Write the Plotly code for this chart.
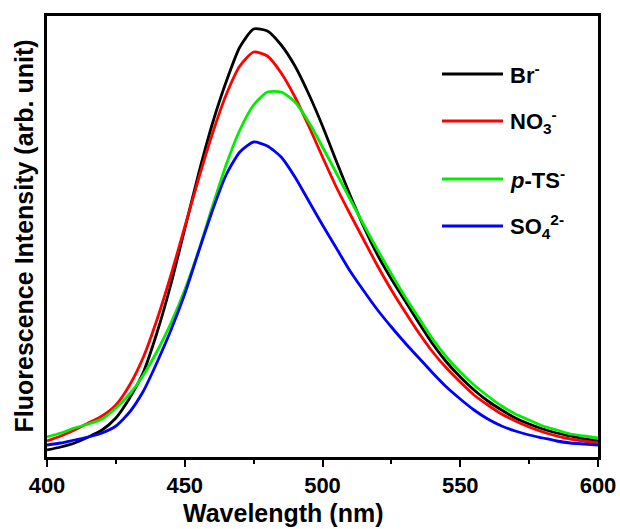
import plotly.graph_objects as go

wavelength = list(range(400, 605, 5))

br = [7, 10, 14, 20, 27, 39, 59, 85, 125, 173, 228, 283, 333, 375, 410, 428, 426, 412, 391, 363, 331,
      296, 262, 230, 202, 178, 156, 134, 113, 95, 80, 67, 56, 47, 39, 33, 28, 24, 21, 18, 16]
no3 = [16, 21, 27, 34, 41, 52, 72, 100, 138, 182, 230, 278, 323, 362, 391, 405, 401, 384, 360, 331, 300,
       270, 243, 217, 191, 167, 145, 124, 105, 89, 75, 62, 52, 43, 36, 30, 25, 21, 18, 16, 14]
pts = [20, 24, 29, 33, 38, 49, 63, 82, 106, 134, 167, 206, 250, 292, 327, 352, 365, 365, 355, 335, 310,
       284, 258, 232, 207, 183, 160, 139, 118, 100, 85, 72, 61, 51, 43, 37, 31, 27, 23, 21, 19]
so4 = [12, 14, 17, 20, 24, 31, 45, 66, 95, 127, 163, 205, 246, 282, 305, 315, 311, 300, 280, 256, 232,
       209, 186, 166, 147, 130, 114, 99, 84, 70, 58, 47, 38, 31, 26, 22, 19, 16, 14, 13, 12]

names = ["Br<sup>-</sup>", "NO<sub>3</sub><sup>-</sup>", "<i>p</i>-TS<sup>-</sup>", "SO<sub>4</sub><sup>2-</sup>"]
series = [br, no3, pts, so4]
colors = ["#000000", "#ff0000", "#00ee00", "#0000ff"]

FONT = "Liberation Sans, Arial, sans-serif"

# plot area in pixels (for placing legend / titles in paper coordinates)
L, R, T, B = 47, 598, 16, 457
W, H = R - L, B - T
def px(x):
    return (x - L) / W
def py(y):
    return (B - y) / H

fig = go.Figure()
for name, ys, c in zip(names, series, colors):
    fig.add_trace(go.Scatter(x=wavelength, y=ys, mode="lines", name=name, showlegend=False,
                             line=dict(color=c, width=2.8, shape="spline", smoothing=0.6)))

# hand-drawn legend (line samples + labels)
leg_y = [74, 121, 179, 226]
for name, c, yy in zip(names, colors, leg_y):
    fig.add_shape(type="line", xref="paper", yref="paper",
                  x0=px(442), x1=px(503), y0=py(yy), y1=py(yy),
                  line=dict(color=c, width=2.8))
    fig.add_annotation(xref="paper", yref="paper", x=px(508), y=py(yy),
                       xanchor="left", yanchor="middle", text=name, showarrow=False,
                       font=dict(size=22, family=FONT, weight="bold", color="black"))

fig.add_annotation(xref="paper", yref="paper", x=px(283), y=py(513),
                   xanchor="center", yanchor="middle", text="Wavelength (nm)", showarrow=False,
                   font=dict(size=25, family=FONT, weight="bold", color="black"))
fig.add_annotation(xref="paper", yref="paper", x=px(23), y=0.5, textangle=-90,
                   xanchor="center", yanchor="middle", text="Fluorescence Intensity (arb. unit)",
                   showarrow=False,
                   font=dict(size=25, family=FONT, weight="bold", color="black"))

fig.update_layout(
    width=620, height=529,
    margin=dict(l=L, r=620 - R, t=T, b=529 - B),
    paper_bgcolor="white", plot_bgcolor="white",
    font=dict(family=FONT, color="black"),
    showlegend=False,
)
fig.update_xaxes(range=[400, 600], tickvals=[400, 450, 500, 550, 600], automargin=False,
                 ticks="outside", ticklen=7, tickwidth=2, tickcolor="black",
                 minor=dict(dtick=25, tick0=400, ticks="outside", ticklen=4, tickwidth=2, tickcolor="black"),
                 showline=True, linewidth=2.5, linecolor="black", mirror=True,
                 showgrid=False, zeroline=False,
                 tickfont=dict(size=22, family=FONT, weight="bold"))
fig.update_yaxes(range=[0, 441], showticklabels=False, ticks="", automargin=False,
                 showline=True, linewidth=2.5, linecolor="black", mirror=True,
                 showgrid=False, zeroline=False)

fig.write_html("out.html", config={"displayModeBar": False},
               post_script="document.body.style.margin='0';document.body.style.overflow='hidden';")
